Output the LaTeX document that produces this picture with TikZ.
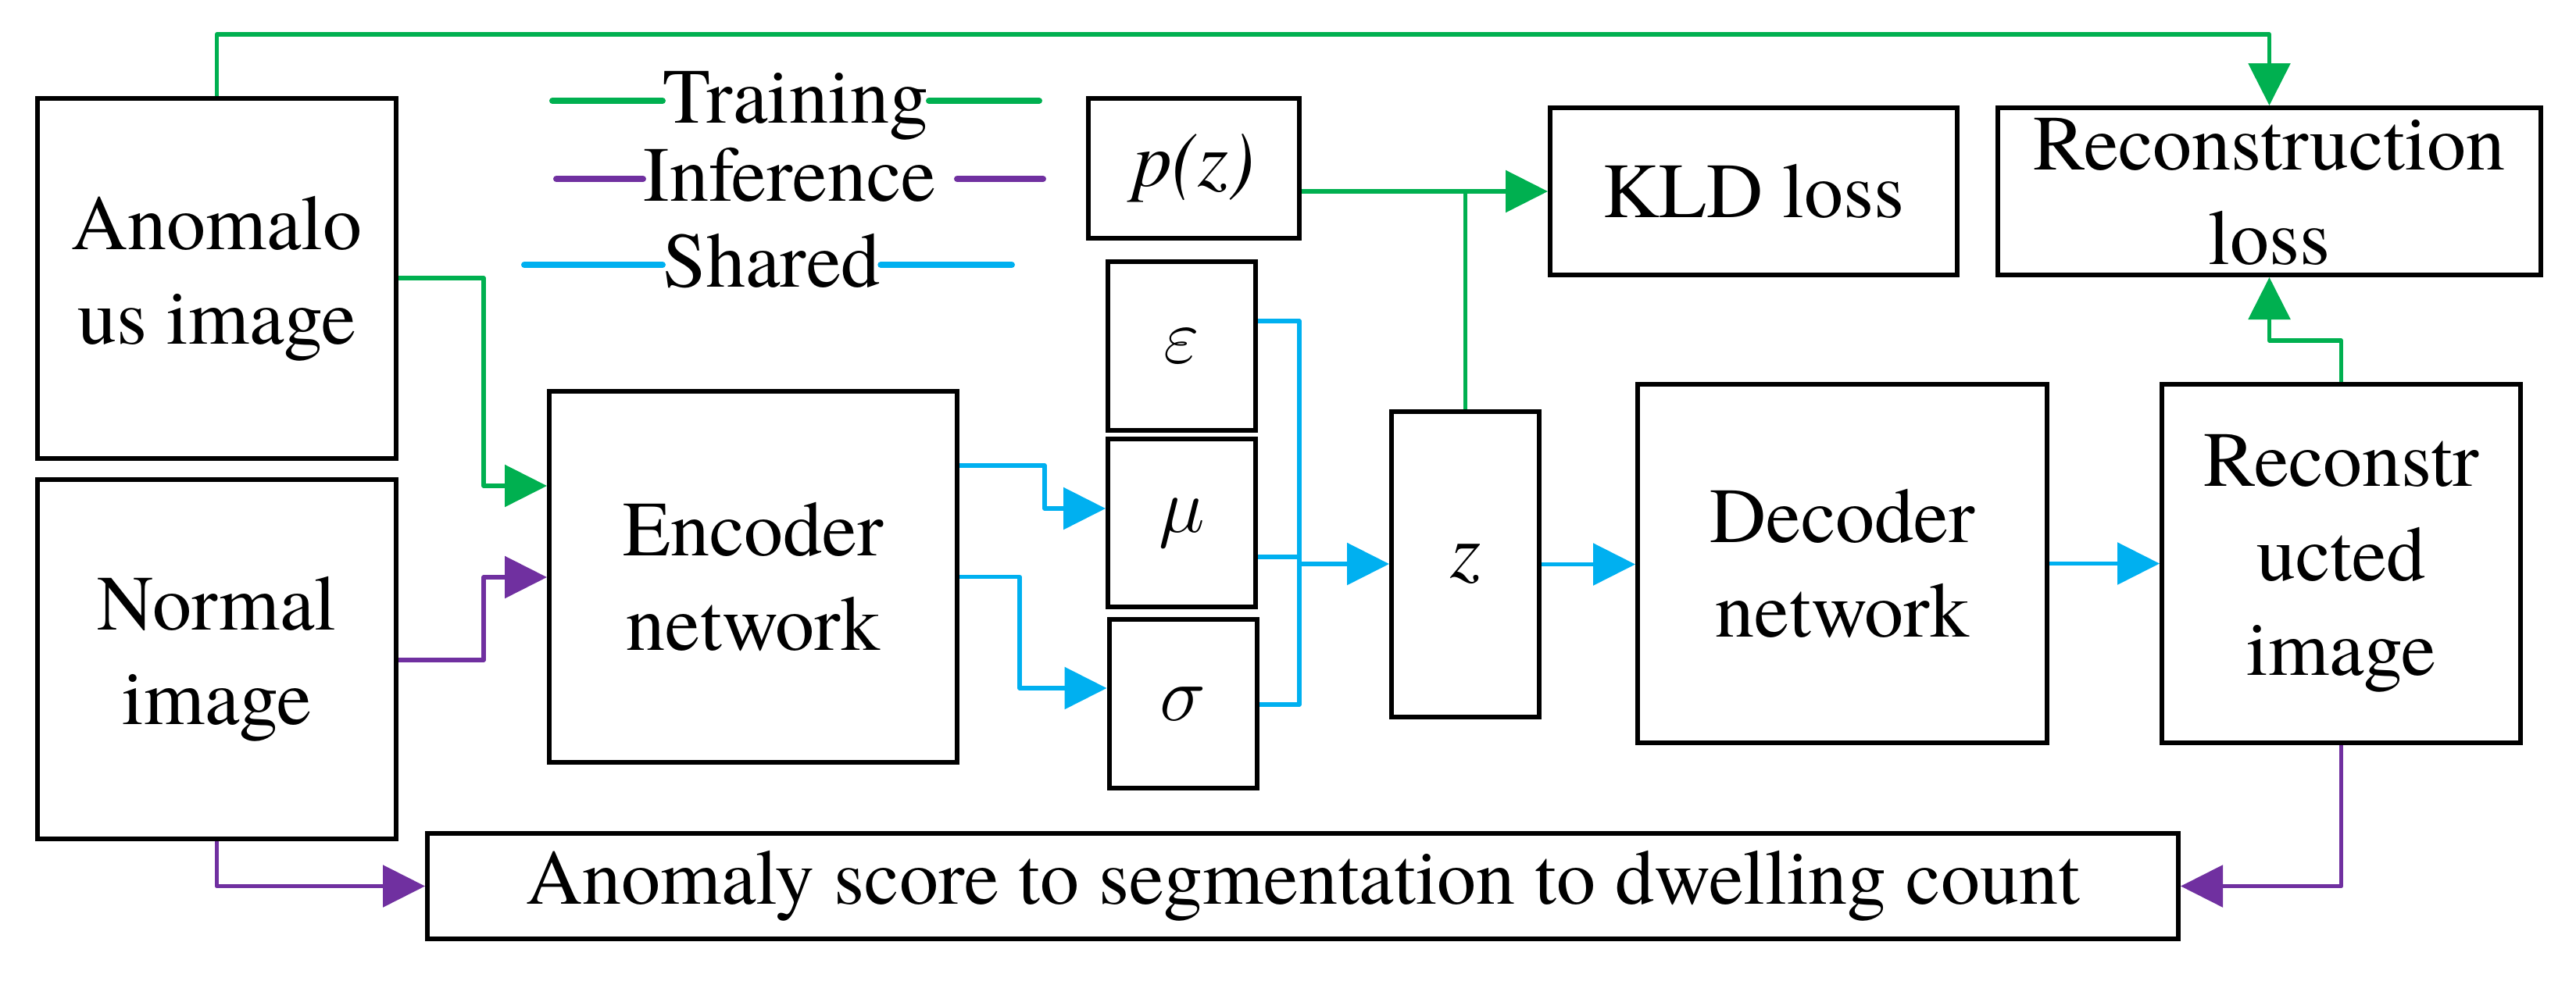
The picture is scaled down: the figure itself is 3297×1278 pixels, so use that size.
\documentclass[tikz,border=0pt]{standalone}
\usepackage{fontspec}
\setmainfont{TeX Gyre Termes}
\usetikzlibrary{arrows.meta}
\definecolor{cg}{HTML}{00B050}
\definecolor{cp}{HTML}{7030A0}
\definecolor{cb}{HTML}{00B0F0}
\begin{document}
\begin{tikzpicture}[x=0.25pt,y=-0.25pt,
  box/.style={draw,line width=1.5pt,inner sep=0pt,align=center,font=\fontsize{25}{30.25}\selectfont},
  lbl/.style={inner sep=0pt,font=\fontsize{25}{30.25}\selectfont},
  conn/.style={line width=1.3pt,line join=round},
  gl/.style={conn,draw=cg},
  pl/.style={conn,draw=cp},
  bl/.style={conn,draw=cb},
  tipg/.style={-{Triangle[length=13.5pt,width=13.3pt,fill=cg]}},
  tipp/.style={-{Triangle[length=13.5pt,width=13.3pt,fill=cp]}},
  tipb/.style={-{Triangle[length=13.5pt,width=13.3pt,fill=cb]}},
  leg/.style={line width=2pt,line cap=round}]
\useasboundingbox (0,0) rectangle (3297,1278);
\fill[white] (0,0) rectangle (3297,1278);

% boxes
\node[box,minimum width=114.75pt,minimum height=115.25pt] (anom) at (277.5,356.5) {Anomalo\\us image};
\node[box,minimum width=114.75pt,minimum height=115pt] (norm) at (277.5,844) {Normal\\image};
\node[box,minimum width=130.5pt,minimum height=118.75pt] (enc) at (964,738.5) {Encoder\\network};
\node[box,minimum width=47.25pt,minimum height=54pt] (eps) at (1512.5,443) {$\varepsilon$};
\node[box,minimum width=47.25pt,minimum height=53.75pt] (mu) at (1512.5,669.5) {\raisebox{-4pt}{$\mu$}};
\node[box,minimum width=47.25pt,minimum height=54pt] (sig) at (1514,901) {\raisebox{-3pt}{$\sigma$}};
\node[box,minimum width=67.5pt,minimum height=44.75pt] (pz) at (1528,215.5) {\textit{p(z)}};
\node[box,minimum width=47.25pt,minimum height=97.75pt] (z) at (1875.5,722.5) {\raisebox{-1.5pt}{\textit{z}}};
\node[box,minimum width=130.25pt,minimum height=53.5pt] (kld) at (2244.5,245) {KLD loss};
\node[box,minimum width=173.75pt,minimum height=53.5pt] (rloss) at (2904.5,245) {Reconstruction\\loss};
\node[box,minimum width=131pt,minimum height=114.75pt] (dec) at (2358,721.5) {Decoder\\network};
\node[box,minimum width=114.75pt,minimum height=114.75pt] (rimg) at (2996.5,721.5) {Reconstr\\ucted\\image};
\node[box,minimum width=560.25pt,minimum height=33.75pt] (score) at (1667.5,1134.5) {Anomaly score to segmentation to dwelling count};

% legend
\node[lbl,anchor=base west] (ltr) at (848,157) {Training};
\node[lbl,anchor=base west] (lin) at (823,257) {Inference};
\node[lbl,anchor=base west] (lsh) at (848,367) {Shared};
\coordinate (ltrA) at (707,129);
\coordinate (ltrB) at (1330,129);
\coordinate (linA) at (712,229);
\coordinate (linB1) at (1225,229);
\coordinate (linB) at (1335,229);
\coordinate (lshA) at (671,339);
\coordinate (lshB) at (1295,339);
\draw[leg,cg] (ltrA) -- (ltr.west |- ltrA);
\draw[leg,cg] (ltr.east |- ltrB) -- (ltrB);
\draw[leg,cp] (linA) -- (lin.west |- linA);
\draw[leg,cp] (linB1) -- (linB);
\draw[leg,cb] (lshA) -- (lsh.west |- lshA);
\draw[leg,cb] (lsh.east |- lshB) -- (lshB);

% green (training) connectors
\draw[gl,tipg] (anom.east |- 0,356) -| (619,622) -- (enc.west |- 0,622);
\draw[gl,tipg] (anom.north) -- (anom.north |- 0,44) -| (rloss.north);
\draw[gl,tipg] (pz.east |- kld.west) -- (kld.west);
\draw[gl] (z.north) -- (z.north |- kld.west);
\draw[gl,tipg] (rimg.north) |- (rloss.south |- 0,436) -- (rloss.south);

% purple (inference) connectors
\draw[pl,tipp] (norm.east |- 0,845) -| (619,739) -- (enc.west |- 0,739);
\draw[pl,tipp] (norm.south) |- (score.west);
\draw[pl,tipp] (rimg.south) |- (score.east);

% blue (shared) connectors
\coordinate (bus) at (1663,722);
\draw[bl,tipb] (enc.east |- 0,596) -| (1337,651) -- (mu.west |- 0,651);
\draw[bl,tipb] (enc.east) -| (1305,881) -- (sig.west |- 0,881);
\draw[bl] (eps.east |- 0,411) -| (1663,902) -- (sig.east |- 0,902);
\draw[bl] (mu.east |- 0,713) -- (1663,713);
\draw[bl,tipb] (bus) -- (z.west |- bus);
\draw[bl,tipb] (z.east) -- (dec.west |- z.east);
\draw[bl,tipb] (dec.east) -- (rimg.west |- dec.east);
\end{tikzpicture}
\end{document}
